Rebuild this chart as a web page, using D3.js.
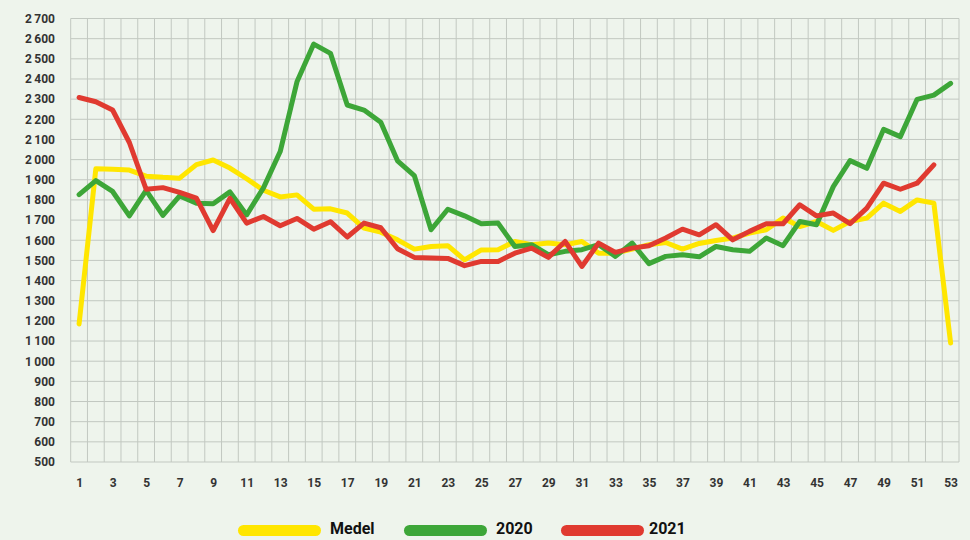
<!DOCTYPE html>
<html>
<head>
<meta charset="utf-8">
<script src="https://cdn.jsdelivr.net/npm/d3@7"></script>
<style>
  html, body { margin: 0; padding: 0; background: #eef4ec; }
  svg { display: block; }
</style>
</head>
<body>
<svg id="chart" width="970" height="540"></svg>
<script>
(() => {
  const weeks = d3.range(1, 54);
  const yTicks = d3.range(500, 2701, 100);
  const xTicks = d3.range(1, 54, 2);

  // average (Medel), weeks 1-53
  const medel = [1185, 1955, 1952, 1948, 1918, 1912, 1908, 1975, 1998, 1958,
    1905, 1848, 1815, 1825, 1754, 1756, 1735, 1660, 1640, 1602,
    1556, 1569, 1573, 1503, 1552, 1553, 1594, 1578, 1586, 1578,
    1594, 1536, 1536, 1556, 1578, 1589, 1556, 1584, 1599, 1611,
    1636, 1652, 1710, 1668, 1693, 1649, 1693, 1710, 1784, 1743,
    1800, 1784, 1090];

  const y2020 = [1826, 1896, 1842, 1721, 1847, 1723, 1820, 1784, 1781, 1840,
    1726, 1860, 2040, 2386, 2573, 2527, 2271, 2246, 2185, 1994,
    1921, 1652, 1754, 1721, 1682, 1685, 1569, 1578, 1528, 1545,
    1553, 1578, 1520, 1586, 1484, 1520, 1528, 1518, 1569, 1553,
    1545, 1611, 1573, 1693, 1677, 1866, 1995, 1957, 2150, 2114,
    2299, 2320, 2378];

  const y2021 = [2308, 2287, 2246, 2085, 1853, 1861, 1837, 1809, 1648, 1808,
    1685, 1718, 1672, 1708, 1655, 1692, 1616, 1685, 1662, 1558,
    1515, 1512, 1510, 1474, 1495, 1495, 1536, 1561, 1515, 1594,
    1470, 1586, 1540, 1561, 1573, 1611, 1655, 1627, 1677, 1602,
    1644, 1682, 1682, 1776, 1721, 1735, 1682, 1759, 1883, 1853,
    1883, 1974];

  const series = [
    { name: 'Medel', values: medel, color: '#ffe600' },
    { name: '2020', values: y2020, color: '#3da638' },
    { name: '2021', values: y2021, color: '#e03a30' }
  ];

  const svg = d3.select('#chart');
  const left = 70.7, right = 959, top = 18.5, bottom = 462;

  const x = d3.scaleLinear().domain([0.5, 53.5]).range([left, right]);
  const y = d3.scaleLinear().domain([500, 2700]).range([bottom, top]);

  // grid
  const grid = svg.append('g').attr('stroke', '#c2c8c1').attr('stroke-width', 1);
  grid.selectAll('line.h')
    .data(yTicks)
    .join('line')
    .attr('x1', left).attr('x2', right)
    .attr('y1', d => y(d)).attr('y2', d => y(d));
  grid.selectAll('line.v')
    .data(d3.range(0.5, 54, 1))
    .join('line')
    .attr('x1', d => x(d)).attr('x2', d => x(d))
    .attr('y1', top).attr('y2', bottom);

  const fmt = v => d3.format(',')(v).replace(',', '\u2009');

  // y axis labels
  const yAxis = d3.axisLeft(y).tickValues(yTicks).tickSize(0).tickPadding(0).tickFormat(fmt);
  svg.append('g')
    .attr('transform', 'translate(55,0)')
    .call(yAxis)
    .call(g => g.select('.domain').remove())
    .call(g => g.selectAll('text')
      .attr('font-family', 'Roboto, sans-serif')
      .attr('font-weight', 700)
      .attr('font-size', 12)
      .attr('fill', '#333'));

  // x axis labels
  const xAxis = d3.axisBottom(x).tickValues(xTicks).tickSize(0).tickPadding(0).tickFormat(d3.format('d'));
  svg.append('g')
    .attr('transform', 'translate(0,478)')
    .call(xAxis)
    .call(g => g.select('.domain').remove())
    .call(g => g.selectAll('text')
      .attr('font-family', 'Roboto, sans-serif')
      .attr('font-weight', 700)
      .attr('font-size', 12)
      .attr('fill', '#333'));

  // lines
  const line = d3.line()
    .x((d, i) => x(weeks[i]))
    .y(d => y(d));

  svg.append('g')
    .selectAll('path')
    .data(series)
    .join('path')
    .attr('d', d => line(d.values))
    .attr('fill', 'none')
    .attr('stroke', d => d.color)
    .attr('stroke-width', 5)
    .attr('stroke-linejoin', 'round')
    .attr('stroke-linecap', 'round');

  // legend
  const legendX = [238, 404, 561];
  const legend = svg.append('g')
    .selectAll('g')
    .data(series)
    .join('g')
    .attr('transform', (d, i) => `translate(${legendX[i]},530)`);
  legend.append('rect')
    .attr('x', 0).attr('y', -5)
    .attr('width', 83).attr('height', 11)
    .attr('rx', 5.5)
    .attr('fill', d => d.color);
  legend.append('text')
    .attr('x', (d, i) => i === 2 ? 88 : 92)
    .attr('y', 4)
    .attr('font-family', 'Roboto, sans-serif')
    .attr('font-weight', 700)
    .attr('font-size', 16)
    .attr('fill', '#111')
    .text(d => d.name);
})();
</script>
</body>
</html>
